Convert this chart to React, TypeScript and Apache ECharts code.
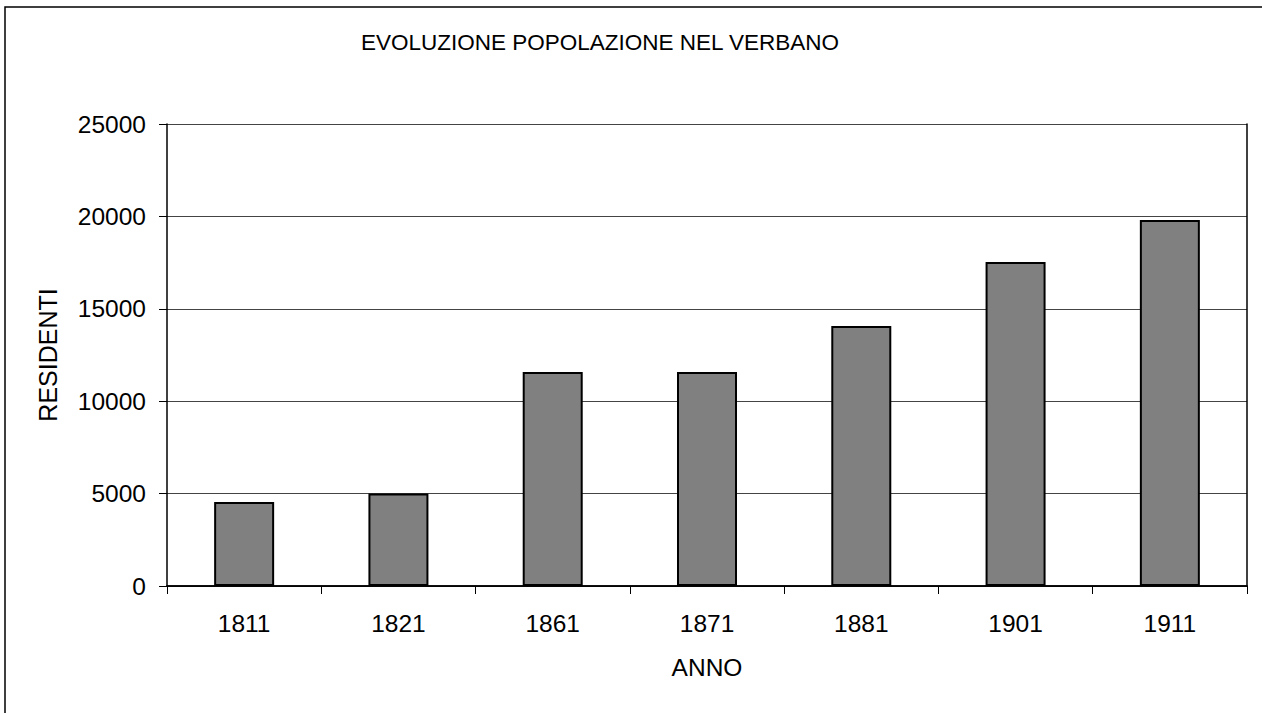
import React, { useEffect, useRef } from "react";
import * as echarts from "echarts";

const years = ["1811", "1821", "1861", "1871", "1881", "1901", "1911"];
const residents = [4550, 5000, 11580, 11580, 14070, 17530, 19800];
const yTicks = { min: 0, max: 25000, interval: 5000 };
const titleText = "EVOLUZIONE POPOLAZIONE NEL VERBANO";
const xName = "ANNO";
const yName = "RESIDENTI";

export default function App() {
  const ref = useRef<HTMLDivElement>(null);
  useEffect(() => {
    if (!ref.current) return;
    const chart = echarts.init(ref.current, undefined, { renderer: "svg" });
    const font = "Liberation Sans, Arial, sans-serif";
    chart.setOption({
      animation: false,
      backgroundColor: "#ffffff",
      textStyle: { fontFamily: font },
      title: {
        text: titleText,
        left: 595,
        top: 26,
        textAlign: "center",
        textStyle: { fontFamily: font, fontSize: 22.5, fontWeight: "normal", color: "#000" },
      },
      graphic: [
        {
          type: "rect",
          shape: { x: 5, y: 7, width: 1400, height: 900 },
          style: { fill: "none", stroke: "#000", lineWidth: 1.5 },
          silent: true,
          z: 100,
        },
      ],
      grid: { left: 167, right: 15, top: 124, bottom: 127, containLabel: false },
      xAxis: [
        {
          type: "category",
          data: years,
          position: "bottom",
          boundaryGap: true,
          axisLine: { lineStyle: { color: "#000", width: 1.5 } },
          axisTick: { show: true, length: 8, lineStyle: { color: "#000", width: 1 } },
          axisLabel: { color: "#000", fontSize: 24.5, fontFamily: font, margin: 25 },
          name: xName,
          nameLocation: "middle",
          nameGap: 69,
          nameTextStyle: { color: "#000", fontSize: 24.5, fontFamily: font },
          splitLine: { show: false },
        },
        {
          type: "category",
          data: years,
          position: "top",
          axisLine: { lineStyle: { color: "#000", width: 1.5 } },
          axisTick: { show: false },
          axisLabel: { show: false },
          splitLine: { show: false },
        },
      ],
      yAxis: [
        {
          type: "value",
          min: yTicks.min,
          max: yTicks.max,
          interval: yTicks.interval,
          axisLine: { show: true, lineStyle: { color: "#000", width: 1.5 } },
          axisTick: { show: true, length: 8, lineStyle: { color: "#000", width: 1 } },
          axisLabel: {
            color: "#000",
            fontSize: 24.5,
            fontFamily: font,
            margin: 21,
            formatter: (v: number) => String(v),
          },
          splitLine: { show: true, lineStyle: { color: "#444", width: 1 } },
          name: yName,
          nameLocation: "middle",
          nameGap: 107,
          nameRotate: 90,
          nameTextStyle: { color: "#000", fontSize: 25, fontFamily: font },
        },
        {
          type: "value",
          position: "right",
          min: yTicks.min,
          max: yTicks.max,
          interval: yTicks.interval,
          axisLine: { show: true, lineStyle: { color: "#000", width: 1.5 } },
          axisTick: { show: false },
          axisLabel: { show: false },
          splitLine: { show: false },
        },
      ],
      series: [
        {
          type: "bar",
          data: residents,
          xAxisIndex: 0,
          yAxisIndex: 0,
          barWidth: 60,
          itemStyle: { color: "#808080", borderColor: "#000", borderWidth: 2 },
        },
      ],
    });
    return () => chart.dispose();
  }, []);
  return (
    <div
      ref={ref}
      style={{ position: "absolute", left: 0, top: 0, width: 1262, height: 713 }}
    />
  );
}
